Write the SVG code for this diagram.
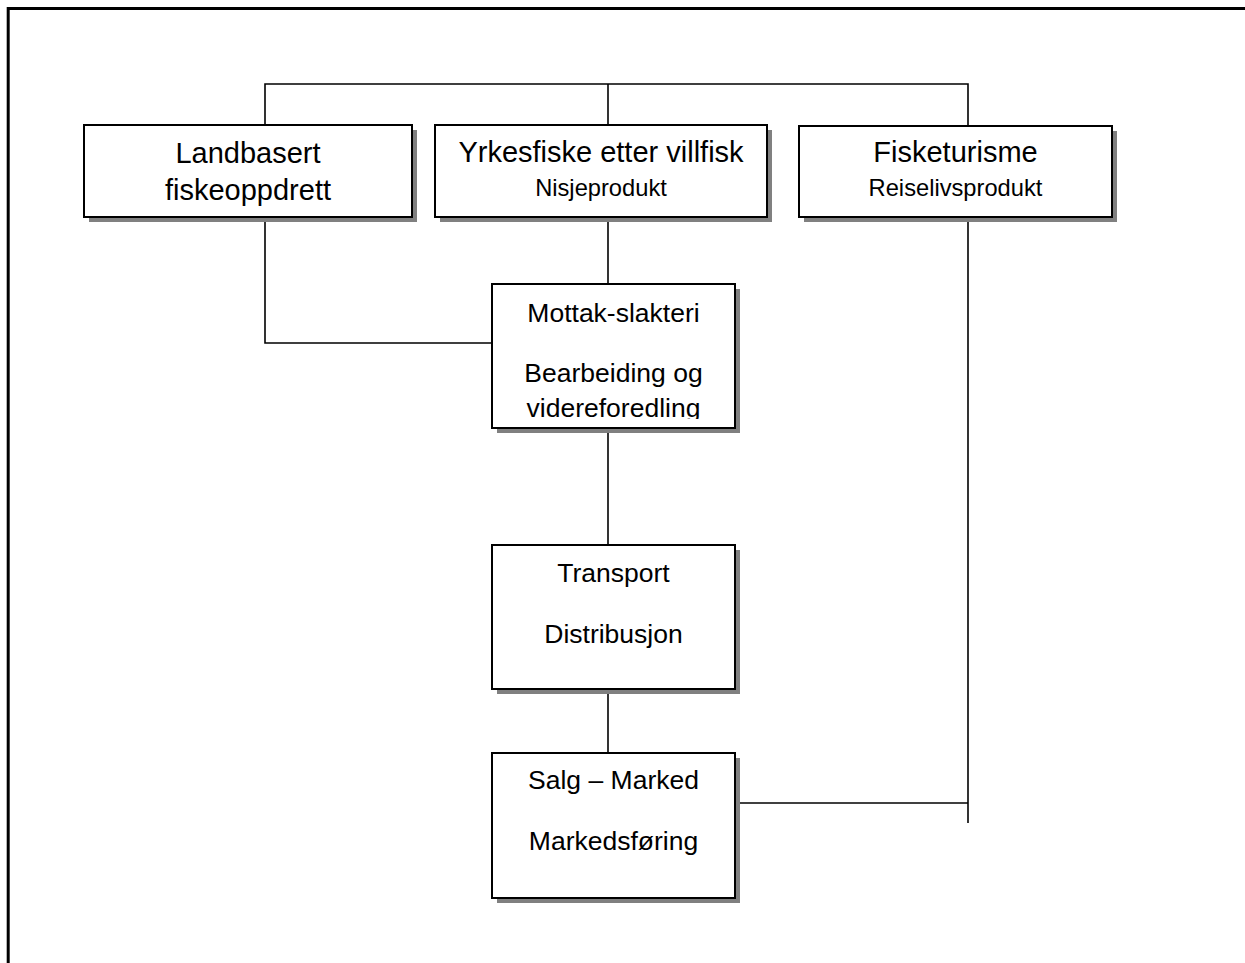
<svg xmlns="http://www.w3.org/2000/svg" width="1245" height="963" viewBox="0 0 1245 963">
<style>
.box{fill:#fff;stroke:#000;stroke-width:2}
.sh{fill:#808080}
.c{fill:none;stroke:#000;stroke-width:1.6}
text{font-family:"Liberation Sans",Arial,sans-serif;fill:#000;text-anchor:middle}
.t{font-size:29px}
.s{font-size:23.7px}
.m{font-size:26.5px}
</style>
<defs>
<clipPath id="clipM"><rect x="493" y="285" width="241" height="134"/></clipPath>
</defs>
<rect width="1245" height="963" fill="#fff"/>
<path d="M8.2,963 V8.5 H1245" fill="none" stroke="#000" stroke-width="3"/>
<g id="connectors">
<path class="c" d="M265,125 V84 H968 V126"/>
<path class="c" d="M608,84 V125"/>
<path class="c" d="M265,217 V343 H492"/>
<path class="c" d="M608,217 V284"/>
<path class="c" d="M608,428 V545"/>
<path class="c" d="M608,689 V757"/>
<path class="c" d="M968,217 V823"/>
<path class="c" d="M735,803 H968"/>
</g>
<g id="n1">
<rect class="sh" x="89" y="130" width="328" height="92"/>
<rect class="box" x="84" y="125" width="328" height="92"/>
<text class="t" x="248" y="163">Landbasert</text>
<text class="t" x="248" y="200">fiskeoppdrett</text>
</g>
<g id="n2">
<rect class="sh" x="440" y="130" width="332" height="92"/>
<rect class="box" x="435" y="125" width="332" height="92"/>
<text class="t" x="601" y="162">Yrkesfiske etter villfisk</text>
<text class="s" x="601" y="196">Nisjeprodukt</text>
</g>
<g id="n3">
<rect class="sh" x="804" y="131" width="313" height="91"/>
<rect class="box" x="799" y="126" width="313" height="91"/>
<text class="t" x="955.5" y="162">Fisketurisme</text>
<text class="s" x="955.5" y="196">Reiselivsprodukt</text>
</g>
<g id="n4">
<rect class="sh" x="497" y="289" width="243" height="144"/>
<rect class="box" x="492" y="284" width="243" height="144"/>
<g clip-path="url(#clipM)">
<text class="m" x="613.5" y="322">Mottak-slakteri</text>
<text class="m" x="613.5" y="382">Bearbeiding og</text>
<text class="m" x="613.5" y="417">videreforedling</text>
</g>
</g>
<g id="n5">
<rect class="sh" x="497" y="550" width="243" height="144"/>
<rect class="box" x="492" y="545" width="243" height="144"/>
<text class="m" x="613.5" y="582">Transport</text>
<text class="m" x="613.5" y="643">Distribusjon</text>
</g>
<g id="n6">
<rect class="sh" x="497" y="758" width="243" height="145"/>
<rect class="box" x="492" y="753" width="243" height="145"/>
<text class="m" x="613.5" y="789">Salg – Marked</text>
<text class="m" x="613.5" y="850">Markedsføring</text>
</g>
</svg>
